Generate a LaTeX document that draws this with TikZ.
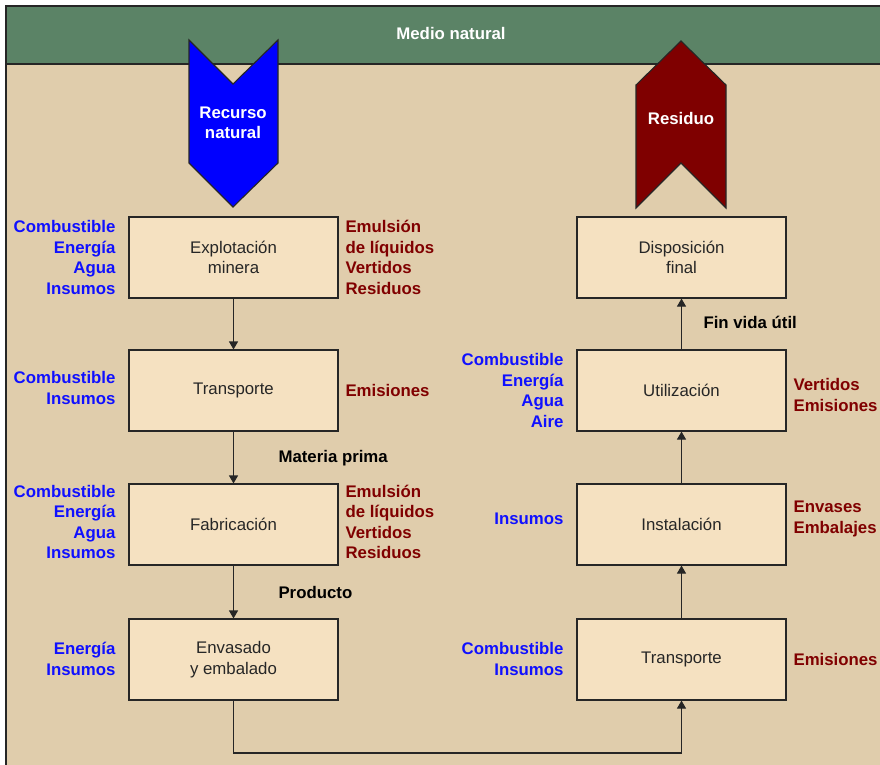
\documentclass[tikz,border=0pt]{standalone}
\usepackage{fontspec}
\setmainfont{Liberation Sans}
\usetikzlibrary{arrows.meta}
\definecolor{bgtan}{HTML}{E0CDAC}
\definecolor{boxfill}{HTML}{F5E1C1}
\definecolor{bandgreen}{HTML}{5B8366}
\definecolor{inblue}{HTML}{1010FF}
\definecolor{outred}{HTML}{800000}
\definecolor{resred}{HTML}{7F0000}
\definecolor{edge}{HTML}{262626}
\tikzset{
  stage/.style={draw=edge, line width=1.1pt, fill=boxfill, minimum width=209pt, minimum height=81pt,
    align=center, font=\fontsize{16.8}{20.5}\selectfont, text=black!85},
  inlab/.style={anchor=east, align=right, text=inblue, font=\fontsize{16.8}{20.5}\selectfont\bfseries},
  outlab/.style={anchor=west, align=left, text=outred, font=\fontsize{16.8}{20.5}\selectfont\bfseries},
  flowlab/.style={anchor=west, text=black, font=\fontsize{16.8}{20.5}\selectfont\bfseries},
  flow/.style={draw=edge, line width=1.1pt, -{Triangle[length=8pt,width=9pt]}},
}
\begin{document}
\begin{tikzpicture}[x=1pt,y=-1pt]
\useasboundingbox (0,0) rectangle (880,764);
% background frame and top band
\fill[bgtan] (6,6) rectangle (884,768);
\fill[bandgreen] (6,6) rectangle (884,64);
\draw[edge, line width=1.2pt] (884,64) -- (6,64);
\draw[edge, line width=1.2pt] (6,768) -- (6,6) -- (884,6);
\node[text=white, font=\fontsize{16.8}{20.5}\selectfont\bfseries] (medio) at (451,33) {Medio natural};

% inflow and outflow chevrons
\draw[edge, line width=1.1pt, fill=blue, line join=miter]
  (189,40) -- (233,84) -- (278,40) -- (278,163) -- (233,207) -- (189,163) -- cycle;
\node[text=white, align=center, font=\fontsize{16.8}{20.5}\selectfont\bfseries] (recurso) at (233,123) {Recurso\\natural};
\draw[edge, line width=1.1pt, fill=resred, line join=miter]
  (636,85) -- (681,41) -- (726,85) -- (726,208) -- (681,163) -- (636,208) -- cycle;
\node[text=white, font=\fontsize{16.8}{20.5}\selectfont\bfseries] (residuo) at (681,118) {Residuo};

% left column
\node[stage] (explot) at (233.5,257.5) {Explotación\\minera};
\node[stage] (transp1) at (233.5,390.5) {Transporte};
\node[stage] (fabric) at (233.5,524.5) {Fabricación};
\node[stage] (envas) at (233.5,659.5) {Envasado\\y embalado};

% right column
\node[stage] (dispos) at (681.5,257.5) {Disposición\\final};
\node[stage] (utiliz) at (681.5,390.5) {Utilización};
\node[stage] (instal) at (681.5,524.5) {Instalación};
\node[stage] (transp2) at (681.5,659.5) {Transporte};

% inputs
\node[inlab] (in1) at (119,257.5) {Combustible\\Energía\\Agua\\Insumos};
\node[inlab] (in2) at (119,388) {Combustible\\Insumos};
\node[inlab] (in3) at (119,522) {Combustible\\Energía\\Agua\\Insumos};
\node[inlab] (in4) at (119,659) {Energía\\Insumos};
\node[inlab] (in5) at (567,390.5) {Combustible\\Energía\\Agua\\Aire};
\node[inlab] (in6) at (567,519) {Insumos};
\node[inlab] (in7) at (567,659) {Combustible\\Insumos};

% outputs
\node[outlab] (out1) at (342,257.5) {Emulsión\\de líquidos\\Vertidos\\Residuos};
\node[outlab] (out2) at (342,390.5) {Emisiones};
\node[outlab] (out3) at (342,522) {Emulsión\\de líquidos\\Vertidos\\Residuos};
\node[outlab] (out4) at (790,395) {Vertidos\\Emisiones};
\node[outlab] (out5) at (790,519) {Envases\\Embalajes};
\node[outlab] (out6) at (790,659.5) {Emisiones};

% flow labels
\node[flowlab] (mprima) at (275,458.5) {Materia prima};
\node[flowlab] (prod) at (275,592.5) {Producto};
\node[flowlab] (finvida) at (700,322.5) {Fin vida útil};

% connectors
\draw[flow] (explot) -- (transp1);
\draw[flow] (transp1) -- (fabric);
\draw[flow] (fabric) -- (envas);
\draw[flow] (envas.south) |- (458,753) -| (transp2.south);
\draw[flow] (transp2) -- (instal);
\draw[flow] (instal) -- (utiliz);
\draw[flow] (utiliz) -- (dispos);
\end{tikzpicture}
\end{document}
